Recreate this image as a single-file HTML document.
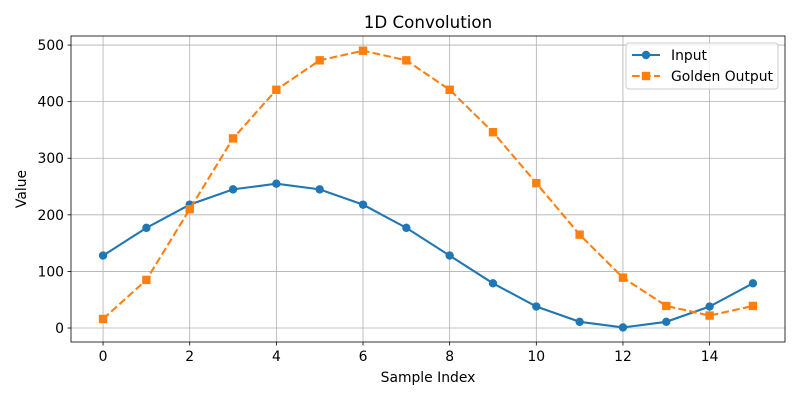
<!DOCTYPE html>
<html><head><meta charset="utf-8"><style>
body{margin:0;background:#fff;font-family:"Liberation Sans","DejaVu Sans",sans-serif}
svg text{font-family:"DejaVu Sans","Liberation Sans",sans-serif}
</style></head><body>
<svg id="c" width="800" height="400" xmlns="http://www.w3.org/2000/svg"></svg>
<script>
const sampleIndex=[0,1,2,3,4,5,6,7,8,9,10,11,12,13,14,15];
const inputValues=[128,177,218,245,255,245,218,177,128,79,38,11,1,11,38,79];
const goldenValues=[16,85,210,335,421,473,490,473,421,346,256,165,89,39,22,39];
const xTicks=[0,2,4,6,8,10,12,14];
const yTicks=[0,100,200,300,400,500];
const L=71,R=785,T=36,B=342,xmin=-0.74,xmax=15.74,ymin=-24.7,ymax=516;
const X=v=>L+(v-xmin)/(xmax-xmin)*(R-L);
const Y=v=>B-(v-ymin)/(ymax-ymin)*(B-T);
const svg=document.getElementById('c');const NS='http://www.w3.org/2000/svg';
function mk(t,a,p){const e=document.createElementNS(NS,t);for(const k in a)e.setAttribute(k,a[k]);(p||svg).appendChild(e);return e;}
const g=mk('g',{});


xTicks.forEach(v=>{const x=X(v);
 const l=mk('line',{x1:x,x2:x,y1:T,y2:B,stroke:'#b0b0b0','stroke-width':0.8},g);
 
 mk('line',{x1:x,x2:x,y1:B,y2:B+3.5,stroke:'#000','stroke-width':0.8});
 const t=mk('text',{x:x,y:B+19,'text-anchor':'middle','font-size':13.9});t.textContent=v;
 });
yTicks.forEach(v=>{const y=Y(v);
 const l=mk('line',{x1:L,x2:R,y1:y,y2:y,stroke:'#b0b0b0','stroke-width':0.8},g);
 
 mk('line',{x1:L-3.5,x2:L,y1:y,y2:y,stroke:'#000','stroke-width':0.8});
 const t=mk('text',{x:L-7,y:y+5,'text-anchor':'end','font-size':13.9});t.textContent=v;
 });
function series(vals,color,dash,marker,name){
 const p=mk('polyline',{points:vals.map((v,i)=>X(sampleIndex[i])+','+Y(v)).join(' '),fill:'none',stroke:color,'stroke-width':2.1,'stroke-dasharray':dash});
 
 vals.forEach((v,i)=>{const x=X(sampleIndex[i]),y=Y(v);let m;
  if(marker==='o')m=mk('circle',{cx:x,cy:y,r:4.2,fill:color});
  else m=mk('rect',{x:x-4.2,y:y-4.2,width:8.4,height:8.4,fill:color});
  });
}
series(inputValues,'#1f77b4','none','o','input');
series(goldenValues,'#ff7f0e','7.7,3.3','s','golden-output');
const fr=mk('rect',{x:L,y:T,width:R-L,height:B-T,fill:'none',stroke:'#000','stroke-width':0.8});

function txt(s,a,n){const t=mk('text',a);t.textContent=s;}
txt('1D Convolution',{x:(L+R)/2,y:28,'text-anchor':'middle','font-size':16.7},'chart-title');
txt('Sample Index',{x:(L+R)/2,y:382,'text-anchor':'middle','font-size':13.9},'x-axis-title');
txt('Value',{x:26,y:(T+B)/2,'text-anchor':'middle','font-size':13.9,transform:'rotate(-90 26 '+(T+B)/2+')'},'y-axis-title');
const lg=mk('g',{});
mk('rect',{x:626,y:43,width:152,height:46,rx:3,fill:'#fff','fill-opacity':0.8,stroke:'#ccc'},lg);
mk('line',{x1:632,x2:660,y1:55,y2:55,stroke:'#1f77b4','stroke-width':2.1},lg);
mk('circle',{cx:646,cy:55,r:4.2,fill:'#1f77b4'},lg);
mk('line',{x1:632,x2:660,y1:76,y2:76,stroke:'#ff7f0e','stroke-width':2.1,'stroke-dasharray':'7.7,3.3'},lg);
mk('rect',{x:641.8,y:71.8,width:8.4,height:8.4,fill:'#ff7f0e'},lg);
txt('Input',{x:671,y:60,'font-size':13.9},'legend-entry-input');
txt('Golden Output',{x:671,y:81,'font-size':13.9},'legend-entry-golden-output');
</script>
</body></html>
